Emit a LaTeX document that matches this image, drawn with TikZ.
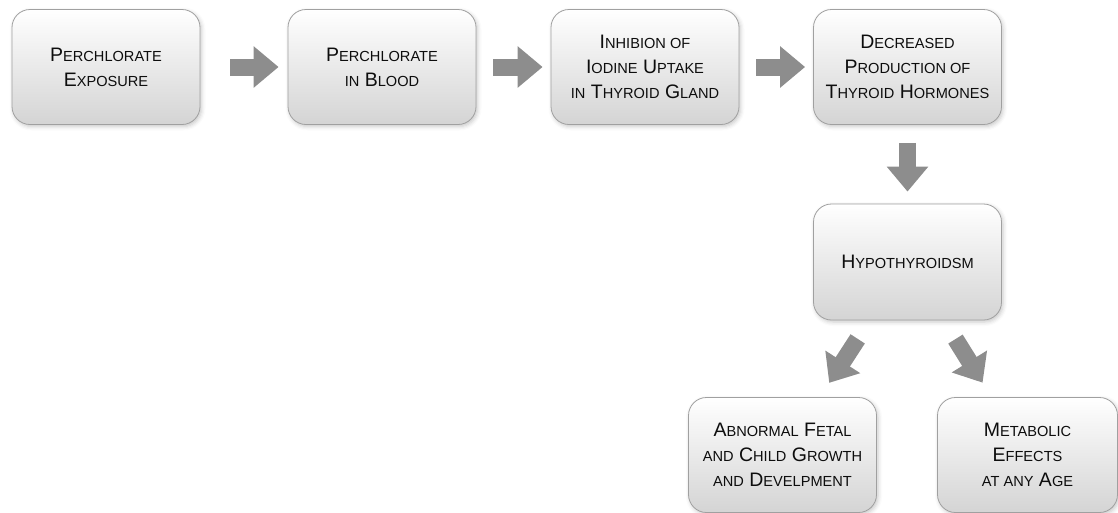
\documentclass[tikz,border=0pt]{standalone}
\usepackage{fontspec}
\setmainfont{Liberation Sans}
\usetikzlibrary{shadows.blur,arrows.meta}
\definecolor{arrowgray}{HTML}{8D8D8D}
\definecolor{boxborder}{HTML}{A0A0A0}
\definecolor{boxbottom}{HTML}{D4D4D4}
\definecolor{txt}{HTML}{0D0D0D}
\newcommand{\smc}[1]{{\fontsize{14.6}{25}\selectfont #1}}
\tikzset{
  stepbox/.style={draw=boxborder, line width=0.8pt, rounded corners=18pt,
    top color=white, bottom color=boxbottom, minimum width=188pt, minimum height=115pt,
    align=center, text=txt, inner sep=2pt,
    font=\fontsize{19.5}{25}\selectfont,
    blur shadow={shadow xshift=1.5pt, shadow yshift=-2pt, shadow blur radius=4pt, shadow opacity=22}},
  blockarrow/.style={draw=arrowgray, line width=17pt, -{Triangle[width=40pt,length=25pt]}}
}
\begin{document}
\begin{tikzpicture}[x=1pt,y=-1pt]
\useasboundingbox (0,0) rectangle (1118,512);
\node[stepbox] (b1) at (106,67) {P\smc{ERCHLORATE}\\E\smc{XPOSURE}};
\node[stepbox] (b2) at (382,67) {P\smc{ERCHLORATE}\\\smc{IN} B\smc{LOOD}};
\node[stepbox] (b3) at (645,67) {I\smc{NHIBION OF}\\I\smc{ODINE} U\smc{PTAKE}\\\smc{IN} T\smc{HYROID} G\smc{LAND}};
\node[stepbox] (b4) at (907.5,67) {D\smc{ECREASED}\\P\smc{RODUCTION OF}\\T\smc{HYROID} H\smc{ORMONES}};
\node[stepbox, minimum height=116pt] (b5) at (907.5,262) {H\smc{YPOTHYROIDSM}};
\node[stepbox] (b6) at (782.5,455) {A\smc{BNORMAL} F\smc{ETAL}\\\smc{AND} C\smc{HILD} G\smc{ROWTH}\\\smc{AND} D\smc{EVELPMENT}};
\node[stepbox, minimum width=180pt] (b7) at (1027.5,455) {M\smc{ETABOLIC}\\E\smc{FFECTS}\\\smc{AT ANY} A\smc{GE}};
\draw[blockarrow, shorten <=30pt, shorten >=9pt] (b1) -- (b2);
\draw[blockarrow, shorten <=17pt, shorten >=8pt] (b2) -- (b3);
\draw[blockarrow, shorten <=17pt, shorten >=8pt] (b3) -- (b4);
\draw[blockarrow, shorten <=18pt, shorten >=12pt] (b4) -- (b5);
\draw[blockarrow, shorten <=22pt, shorten >=17pt] (b5) -- (b6);
\draw[blockarrow, shorten <=22pt, shorten >=17pt] (b5) -- (b7);
\end{tikzpicture}
\end{document}
